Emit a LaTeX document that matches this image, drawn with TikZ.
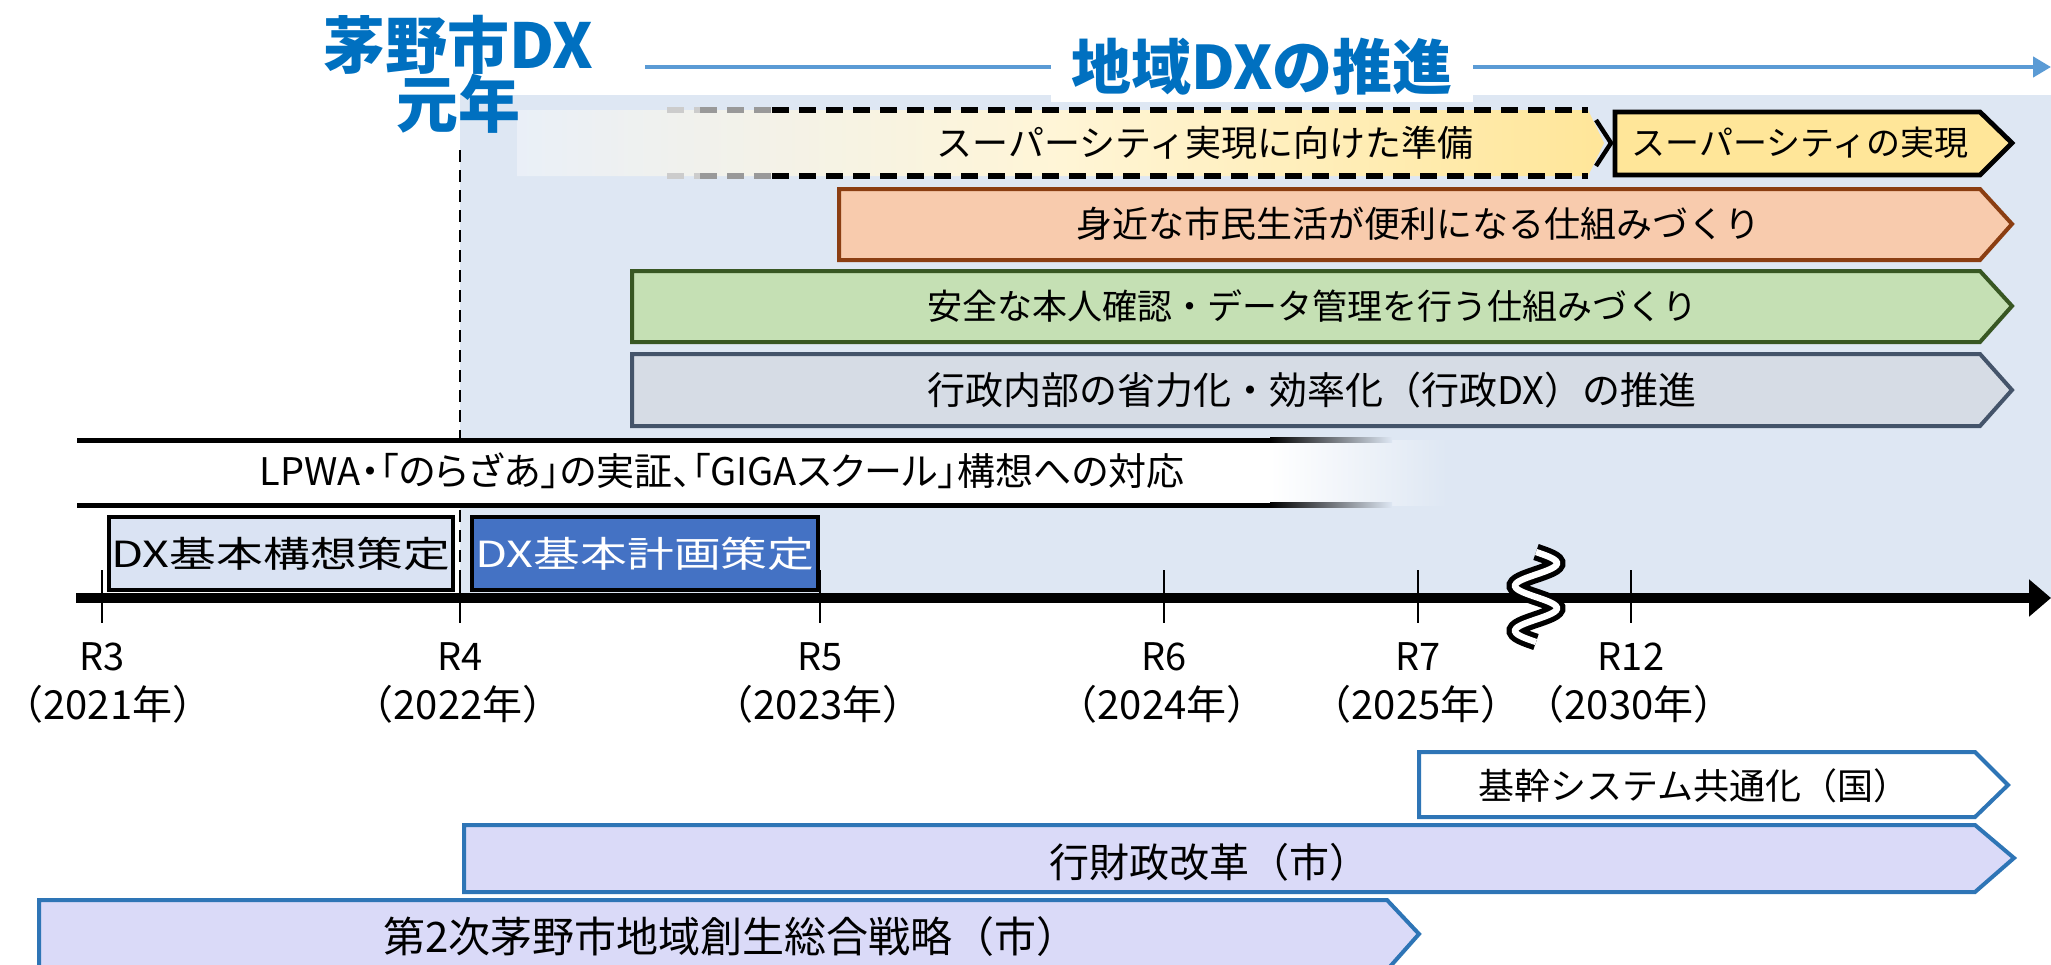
\documentclass[tikz,border=0pt]{standalone}
\usepackage{fontspec}
\setmainfont{Noto Sans CJK JP}
\newfontfamily\jpp[RawFeature=+palt]{Noto Sans CJK JP}
\newfontfamily\jpwide[FakeStretch=1.3]{Noto Sans CJK JP}
\usetikzlibrary{arrows.meta}
\definecolor{bgc}{HTML}{DEE7F3}
\definecolor{ttlblue}{HTML}{0070C0}
\definecolor{arrblue}{HTML}{5B9BD5}
\definecolor{ylw}{HTML}{FFE699}
\definecolor{orf}{HTML}{F8CBAD}
\definecolor{ord}{HTML}{8B3E12}
\definecolor{grf}{HTML}{C5E0B4}
\definecolor{grd}{HTML}{385723}
\definecolor{gyf}{HTML}{D6DCE5}
\definecolor{gyd}{HTML}{44546A}
\definecolor{lavf}{HTML}{DADAF8}
\definecolor{bld}{HTML}{2E75B6}
\definecolor{dxa}{HTML}{DAE3F3}
\definecolor{dxb}{HTML}{4472C4}
\begin{document}
\begin{tikzpicture}[x=0.5pt,y=-0.5pt,
  txt/.style={inner sep=0pt, font=\fontsize{#1}{#1}\selectfont},
  txt/.default=18,
  ttl/.style={inner sep=0pt, text=ttlblue, font=\fontsize{31}{31}\selectfont\bfseries},
  dsh/.style={line width=2.6pt, dash pattern=on 8.5pt off 5pt},
  vdash/.style={line width=1.2pt, dash pattern=on 6pt off 4pt},
  rowbox/.style={line width=2pt, line join=miter},
  botbox/.style={line width=2pt, draw=bld, fill=lavf, line join=miter},
  tick/.style={line width=1pt}
]
\useasboundingbox (0,0) rectangle (2051,964);

% background of the DX period
\fill[bgc] (460,95) rectangle (2051,598);

% dashed R4 line
\coordinate (dtop) at (460,150);
\coordinate (dbot) at (460,623);
\draw[vdash] (dtop) -- (dbot);

% row 1
\shade[left color=bgc!65!white, right color=ylw, middle color=ylw!40!white]
  (517,110) -- (1588,110) -- (1604,143) -- (1588,176) -- (517,176) -- cycle;
\draw[dsh, black!20] (667,110) -- (700,110);
\draw[dsh, black!20] (667,176) -- (700,176);
\draw[dsh, black!40] (700,110) -- (772,110);
\draw[dsh, black!40] (700,176) -- (772,176);
\draw[dsh] (772,110) -- (1588,110);
\draw[dsh] (772,176) -- (1588,176);
\draw[line width=2.2pt] (1596,120) -- (1611,143) -- (1596,166);
\node[txt=18] (sc1) at (1205,143) {スーパーシティ実現に向けた準備};
\draw[rowbox, fill=ylw, line width=2.4pt] (1615,112) -- (1980,112) -- (2012,143) -- (1980,175) -- (1615,175) -- cycle;
\node[txt=17] (sc2) at (1800,143) {スーパーシティの実現};

% row 2
\draw[rowbox, draw=ord, fill=orf] (839,189) -- (1980,189) -- (2012,224) -- (1980,260) -- (839,260) -- cycle;
\node[txt=18] (r2t) at (1418,224) {身近な市民生活が便利になる仕組みづくり};

% row 3
\draw[rowbox, draw=grd, fill=grf] (632,271) -- (1980,271) -- (2012,306) -- (1980,342) -- (632,342) -- cycle;
\node[txt=17.5] (r3t) at (1312,306) {安全な本人確認・データ管理を行う仕組みづくり};

% row 4
\draw[rowbox, draw=gyd, fill=gyf] (632,354) -- (1980,354) -- (2012,390) -- (1980,426) -- (632,426) -- cycle;
\node[txt=19] (r4t) at (1312,390) {行政内部の省力化・効率化（行政DX）の推進};

% LPWA band
\fill[white] (77,440) rectangle (1270,505);
\shade[left color=white, right color=bgc] (1270,440) rectangle (1447,505);
\draw[line width=2.5pt] (77,440) -- (1270,440);
\draw[line width=2.5pt] (77,505) -- (1270,505);
\shade[left color=black, right color=bgc] (1270,437.5) rectangle (1392,442.5);
\shade[left color=black, right color=bgc] (1270,502.5) rectangle (1392,507.5);
\node[inner sep=0pt, font=\jpp\fontsize{19}{19}\selectfont] (lpwa) at (722,471) {LPWA・「のらざあ」の実証、「GIGAスクール」構想への対応};

% DX plan boxes
\draw[line width=2.4pt, fill=dxa] (109,517) rectangle (453,590);
\node[inner sep=0pt, font=\jpwide\fontsize{18}{18}\selectfont] (kousou) at (281,554) {DX基本構想策定};
\draw[line width=2.4pt, fill=dxb] (472,517) rectangle (818,590);
\node[inner sep=0pt, text=white, font=\jpwide\fontsize{18}{18}\selectfont] (keikaku) at (645,554) {DX基本計画策定};

% axis
\coordinate (ax0) at (76,598);
\coordinate (ax1) at (2051,598);
\draw[line width=5pt, -{Triangle[length=11pt,width=18pt]}] (ax0) -- (ax1);
\foreach \x in {102,460,820,1164,1418,1631} \draw[tick] (\x,570) -- (\x,623);
\foreach \x/\rr/\yy/\dx in {102/3/2021/6,460/4/2022/-2,820/5/2023/-2,1164/6/2024/-2,1418/7/2025/-2,1631/12/2030/-2} {
  \node[txt=19] (rl\rr) at (\x,657) {R\rr};
  \node[txt=20] (yl\rr) at (\x+\dx,704) {（{\yy}年）};
}
% break mark
\draw[line width=2.6pt, double=white, double distance=3.2pt]
  plot[smooth, domain=0:720, samples=61] ({1536+21*sin(\x)}, {552+0.125*\x});

% bottom bars
\draw[botbox, fill=white] (1419,752) -- (1975,752) -- (2008,785) -- (1975,817) -- (1419,817) -- cycle;
\node[txt=18] (kikan) at (1694,786) {基幹システム共通化（国）};
\draw[botbox] (464,825) -- (1975,825) -- (2014,858) -- (1975,892) -- (464,892) -- cycle;
\node[txt=20] (gyozai) at (1209,862) {行財政改革（市）};
\draw[botbox] (39,900) -- (1387,900) -- (1419,934) -- (1387,970) -- (39,970) -- cycle;
\node[txt=21] (senryaku) at (731,937) {第2次茅野市地域創生総合戦略（市）};

% titles
\node[ttl] (t1) at (458,45) {茅野市DX};
\node[ttl] (t2) at (458,104) {元年};
\coordinate (ba0) at (645,67);
\coordinate (ba1) at (2051,67);
\draw[arrblue, line width=2.2pt, -{Triangle[length=9pt,width=10pt]}] (ba0) -- (ba1);
\node[fill=white, inner xsep=10pt, inner ysep=0pt, minimum height=35pt, text=ttlblue,
  font=\fontsize{30}{30}\selectfont\bfseries] (dxp) at (1262,67) {地域DXの推進};
\end{tikzpicture}
\end{document}
